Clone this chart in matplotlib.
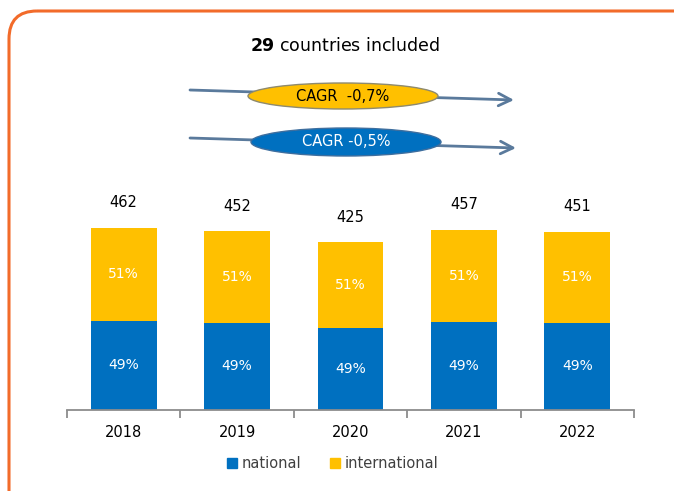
"""Stacked bars: national vs international, 2018-2022"""
import matplotlib.pyplot as plt
import matplotlib.patches as patches
from matplotlib.lines import Line2D

years = ['2018', '2019', '2020', '2021', '2022']
national = [226, 221, 208, 224, 221]
international = [236, 231, 217, 233, 230]
totals = [462, 452, 425, 457, 451]
nat_pct = ['49%', '49%', '49%', '49%', '49%']
int_pct = ['51%', '51%', '51%', '51%', '51%']

BLUE = '#0070C0'
YELLOW = '#FFC000'
ORANGE = '#F26B2A'
ARROW = '#5A7A9C'

plt.rcParams['font.family'] = ['DejaVu Sans']

fig = plt.figure(figsize=(6.74, 4.91), dpi=100)

# main chart axes (pixel positions)
W, H = 674, 491
ax = fig.add_axes([67 / W, 1 - 410 / H, (634 - 67) / W, (410 - 175) / H])
x = list(range(len(years)))
ax.bar(x, national, width=0.58, color=BLUE, zorder=2)
ax.bar(x, international, width=0.58, bottom=national, color=YELLOW, zorder=2)

for i in x:
    ax.text(i, national[i] / 2, nat_pct[i], ha='center', va='center',
            color='white', fontsize=10)
    ax.text(i, national[i] + international[i] / 2, int_pct[i], ha='center',
            va='center', color='white', fontsize=10)
    ax.text(i, totals[i] + 63, str(totals[i]), ha='center', va='center',
            color='black', fontsize=10.5)

ax.set_xlim(-0.5, len(years) - 0.5)
ax.set_ylim(0, 595)
for s in ['top', 'right', 'left']:
    ax.spines[s].set_visible(False)
ax.spines['bottom'].set_color('#8C8C8C')
ax.spines['bottom'].set_linewidth(1.3)
ax.set_yticks([])
ax.set_xticks([i - 0.5 for i in range(len(years) + 1)])
ax.set_xticklabels([])
ax.set_xticks(x, minor=True)
ax.set_xticklabels(years, minor=True, fontsize=10.5)
ax.tick_params(axis='x', which='major', length=6, width=1.3, color='#8C8C8C')
ax.tick_params(axis='x', which='minor', length=0, pad=11)

handles = [Line2D([], [], marker='s', linestyle='', color=BLUE, markersize=7),
           Line2D([], [], marker='s', linestyle='', color=YELLOW, markersize=7)]
fig.legend(handles, ['national', 'international'], loc='center',
           bbox_to_anchor=(331 / W, 1 - 464 / H), ncol=2, frameon=False,
           fontsize=10.5, handletextpad=0.05, columnspacing=1.7,
           handlelength=1.2, labelcolor='#404040')

# overlay in pixel coordinates for frame, title and CAGR arrows
ov = fig.add_axes([0, 0, 1, 1], facecolor='none')
ov.set_xlim(0, W)
ov.set_ylim(H, 0)
ov.axis('off')

frame = patches.FancyBboxPatch((9, 11), 700, 520,
                               boxstyle='round,pad=0,rounding_size=28',
                               fill=False, edgecolor=ORANGE, linewidth=2.2)
ov.add_patch(frame)

ov.text(345, 46, r'$\bf{29}$ countries included', ha='center', va='center',
        fontsize=12.5)

arrow_props = dict(arrowstyle='->,head_length=0.9,head_width=0.45', lw=2,
                   color=ARROW, shrinkA=0, shrinkB=0)
ov.annotate('', xy=(514, 100), xytext=(190, 90), arrowprops=arrow_props)
ov.annotate('', xy=(516, 148), xytext=(190, 138), arrowprops=arrow_props)

ov.add_patch(patches.Ellipse((343, 96), 190, 26, facecolor=YELLOW,
                             edgecolor='#8E8A6E', linewidth=1, zorder=3))
ov.add_patch(patches.Ellipse((346, 142), 190, 28, facecolor=BLUE,
                             edgecolor='#3E6E9E', linewidth=1, zorder=3))
ov.text(343, 96, 'CAGR  -0,7%', ha='center', va='center', fontsize=10.5,
        color='black', zorder=4)
ov.text(346, 142, 'CAGR -0,5%', ha='center', va='center', fontsize=10.5,
        color='white', zorder=4)

plt.savefig('out.png', dpi=100)
plt.close()
